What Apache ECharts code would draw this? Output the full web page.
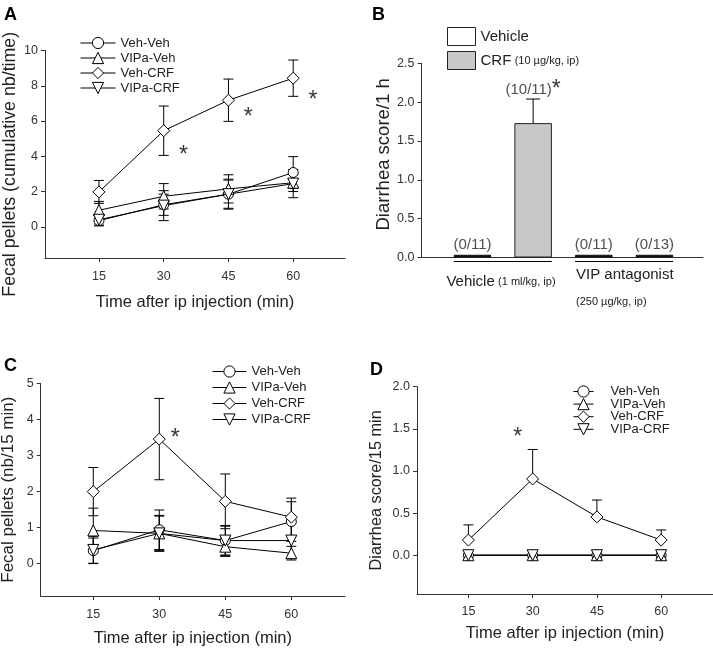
<!DOCTYPE html>
<html><head><meta charset="utf-8">
<script src="https://cdn.jsdelivr.net/npm/echarts@6/dist/echarts.min.js"></script>
<style>html,body{margin:0;padding:0;background:#fff}#c{width:713px;height:649px}</style>
</head><body><div id="c"></div>
<script>
const FONT = "'Liberation Sans', Arial, Helvetica, sans-serif";

// ---------- shared ----------
const times = [15, 30, 45, 60];
const groupNames = ['Veh-Veh', 'VIPa-Veh', 'Veh-CRF', 'VIPa-CRF'];
const xTickValues = [15, 30, 45, 60];
const xTitle = 'Time after ip injection (min)';

// ---------- Panel A: cumulative fecal pellets ----------
const aVehVeh = [0.35, 1.25, 1.85, 3.08];
const aVIPaVeh = [0.94, 1.73, 2.15, 2.50];
const aVehCRF = [1.98, 5.45, 7.18, 8.43];
const aVIPaCRF = [0.40, 1.20, 1.85, 2.45];
const aVehVehSem = [0.30, 0.60, 0.85, 0.90];
const aVIPaVehSem = [0.50, 0.72, 0.80, 0.50];
const aVehCRFSem = [0.65, 1.40, 1.20, 1.03];
const aVIPaCRFSem = [0.30, 0.85, 0.80, 0.80];
const aYTicks = [0, 2, 4, 6, 8, 10];
const aStarX = [34.6, 49.6, 64.6];
const aStarY = [4.3, 6.45, 7.45];
const aYTitle = 'Fecal pellets (cumulative nb/time)';

// ---------- Panel B: diarrhea score / 1 h ----------
const bSeriesNames = ['Vehicle', 'CRF (10 µg/kg, ip)'];
const bPositions = [1, 2, 3, 4];
const bSeriesOf = [0, 1, 0, 1];
const bValues = [0.035, 1.73, 0.035, 0.035];
const bSem = [0, 0.31, 0, 0];
const bCounts = ['(0/11)', '(10/11)', '(0/11)', '(0/13)'];
const bStars = ['', '*', '', ''];
const bYTicks = [0, 0.5, 1.0, 1.5, 2.0, 2.5];
const bGroupFrom = [1, 3];
const bGroupTo = [2, 4];
const bGroupLabels = ['Vehicle', 'VIP antagonist'];
const bGroupDoses = ['(1 ml/kg, ip)', '(250 µg/kg, ip)'];
const bYTitle = 'Diarrhea score/1 h';

// ---------- Panel C: fecal pellets / 15 min ----------
const cVehVeh = [0.35, 0.93, 0.63, 1.16];
const cVIPaVeh = [0.91, 0.83, 0.46, 0.28];
const cVehCRF = [1.99, 3.45, 1.72, 1.28];
const cVIPaCRF = [0.37, 0.83, 0.63, 0.63];
const cVehVehSem = [0.35, 0.55, 0.40, 0.55];
const cVIPaVehSem = [0.62, 0.50, 0.27, 0.19];
const cVehCRFSem = [0.67, 1.13, 0.76, 0.53];
const cVIPaCRFSem = [0.38, 0.48, 0.42, 0.50];
const cYTicks = [0, 1, 2, 3, 4, 5];
const cStarX = [33.6];
const cStarY = [3.6];
const cYTitle = 'Fecal pellets (nb/15 min)';

// ---------- Panel D: diarrhea score / 15 min ----------
const dVehVeh = [0, 0, 0, 0];
const dVIPaVeh = [0, 0, 0, 0];
const dVehCRF = [0.18, 0.905, 0.455, 0.18];
const dVIPaCRF = [0, 0, 0, 0];
const dVehVehSem = [0, 0, 0, 0];
const dVIPaVehSem = [0, 0, 0, 0];
const dVehCRFSem = [0.18, 0.35, 0.20, 0.12];
const dVIPaCRFSem = [0, 0, 0, 0];
const dYTicks = [0, 0.5, 1.0, 1.5, 2.0];
const dStarX = [26.5];
const dStarY = [1.45];
const dYTitle = 'Diarrhea score/15 min';

// ---------- styles ----------
const symbols = ['circle', 'triangle', 'diamond', 'triangle'];
const symbolRot = [0, 0, 0, 180];
const symbolSizes = [10, 11, 12, 11];
const AX = '#333';
const X_TITLE_FS = 16.5;
const TICK_FS = 12.5;

function errSeries(idx, data, cap, twoSided) {
  return {
    type: 'custom', xAxisIndex: idx, yAxisIndex: idx, z: 2, silent: true, animation: false,
    data: data, encode: { x: 0, y: [1, 2] },
    renderItem: function (params, api) {
      const x = api.value(0), lo = api.value(1), hi = api.value(2);
      const a = api.coord([x, lo]), b = api.coord([x, hi]);
      const st = { stroke: '#000', lineWidth: 1 };
      const ch = [
        { type: 'line', shape: { x1: a[0], y1: a[1], x2: b[0], y2: b[1] }, style: st },
        { type: 'line', shape: { x1: b[0] - cap, y1: b[1], x2: b[0] + cap, y2: b[1] }, style: st }
      ];
      if (twoSided) ch.push({ type: 'line', shape: { x1: a[0] - cap, y1: a[1], x2: a[0] + cap, y2: a[1] }, style: st });
      return { type: 'group', children: ch };
    }
  };
}

function linePanel(idx, means, sems, twoSided) {
  const out = [];
  groupNames.forEach(function (name, k) {
    out.push({
      type: 'line', name: name, xAxisIndex: idx, yAxisIndex: idx, z: 3, animation: false,
      data: times.map(function (t, i) { return [t, means[k][i]]; }),
      symbol: symbols[k], symbolRotate: symbolRot[k], symbolSize: symbolSizes[k],
      itemStyle: { color: '#fff', borderColor: '#000', borderWidth: 1 },
      lineStyle: { color: '#000', width: 1 },
      emphasis: { disabled: true }
    });
  });
  const errData = [];
  means.forEach(function (m, k) {
    m.forEach(function (v, i) {
      const s = sems[k][i];
      if (s > 0) errData.push([times[i], twoSided ? v - s : v, v + s]);
    });
  });
  out.push(errSeries(idx, errData, 5, twoSided));
  return out;
}

function starSeries(idx, xs, ys) {
  return {
    type: 'scatter', xAxisIndex: idx, yAxisIndex: idx, symbolSize: 1, silent: true, z: 5, animation: false,
    itemStyle: { color: 'rgba(0,0,0,0)' },
    data: xs.map(function (x, i) { return [x, ys[i]]; }),
    label: { show: true, position: 'inside', formatter: '*', fontSize: 23, color: '#000', fontFamily: FONT, offset: [0, 5] }
  };
}

function xAx(idx, min, max, gap, labelMargin) {
  return {
    type: 'value', gridIndex: idx, min: min, max: max,
    name: xTitle, nameLocation: 'middle', nameGap: gap,
    nameTextStyle: { fontSize: X_TITLE_FS, color: '#222', fontFamily: FONT },
    axisLine: { show: true, onZero: false, lineStyle: { color: AX, width: 1 } },
    axisTick: { show: true, length: 4, customValues: xTickValues, lineStyle: { color: AX } },
    axisLabel: { customValues: xTickValues, fontSize: TICK_FS, color: '#333', margin: labelMargin, fontFamily: FONT },
    splitLine: { show: false }
  };
}
function yAx(idx, min, max, ticks, dec, name, gap, fs, pad) {
  return {
    type: 'value', gridIndex: idx, min: min, max: max,
    name: name, nameLocation: 'middle', nameGap: gap,
    nameTextStyle: { fontSize: fs, color: '#222', fontFamily: FONT, padding: pad },
    axisLine: { show: true, onZero: false, lineStyle: { color: AX, width: 1 } },
    axisTick: { show: true, length: 4, customValues: ticks, lineStyle: { color: AX } },
    axisLabel: { customValues: ticks, fontSize: TICK_FS, color: '#333', margin: 7, fontFamily: FONT,
      formatter: function (v) { return v.toFixed(dec); } },
    splitLine: { show: false }
  };
}

function lineLegend(left, top, itemWidth, gap, padLeft) {
  return {
    data: groupNames, orient: 'vertical', left: left, top: top, itemWidth: itemWidth, itemHeight: 14,
    itemGap: gap, selectedMode: false, padding: 0,
    lineStyle: { width: 1, color: '#000' },
    itemStyle: { color: '#fff', borderColor: '#000', borderWidth: 1 },
    textStyle: { fontSize: 13, color: '#222', fontFamily: FONT, padding: [0, 0, 0, padLeft] }
  };
}

const series = [];
series.push.apply(series, linePanel(0, [aVehVeh, aVIPaVeh, aVehCRF, aVIPaCRF], [aVehVehSem, aVIPaVehSem, aVehCRFSem, aVIPaCRFSem], true));
series.push(starSeries(0, aStarX, aStarY));
series.push.apply(series, linePanel(2, [cVehVeh, cVIPaVeh, cVehCRF, cVIPaCRF], [cVehVehSem, cVIPaVehSem, cVehCRFSem, cVIPaCRFSem], true));
series.push(starSeries(2, cStarX, cStarY));
series.push.apply(series, linePanel(3, [dVehVeh, dVIPaVeh, dVehCRF, dVIPaCRF], [dVehVehSem, dVIPaVehSem, dVehCRFSem, dVIPaCRFSem], false));
series.push(starSeries(3, dStarX, dStarY));

// Panel B bars
const bFill = ['#fff', '#c8c8c8'];
const BAR_W = 37.5;
bSeriesNames.forEach(function (n, s) {
  const d = [];
  bPositions.forEach(function (p, i) {
    if (bSeriesOf[i] !== s) return;
    // near-zero means are drawn as a solid black strip, as in the figure
    d.push(bValues[i] < 0.1 ? { value: [p, bValues[i]], itemStyle: { color: '#111', borderColor: '#111' } } : [p, bValues[i]]);
  });
  series.push({
    type: 'bar', name: n, xAxisIndex: 1, yAxisIndex: 1, barWidth: BAR_W, barGap: '-100%', z: 2,
    animation: false, data: d,
    itemStyle: { color: bFill[s], borderColor: '#222', borderWidth: 1 },
    emphasis: { disabled: true }
  });
});
const bErr = [];
bPositions.forEach(function (p, i) { if (bSem[i] > 0) bErr.push([p, bValues[i], bValues[i] + bSem[i]]); });
series.push(errSeries(1, bErr, 7, false));
series.push({
  type: 'scatter', xAxisIndex: 1, yAxisIndex: 1, symbolSize: 1, silent: true, z: 5, animation: false,
  itemStyle: { color: 'rgba(0,0,0,0)' },
  data: bPositions.map(function (p, i) { return [p, bValues[i] + bSem[i], i]; }),
  label: {
    show: true, position: 'top', distance: 1,
    formatter: function (prm) {
      const i = prm.value[2];
      return '{t|' + bCounts[i] + '}' + (bStars[i] ? '{s|' + bStars[i] + '}' : '');
    },
    rich: {
      t: { fontSize: 15, lineHeight: 16, color: '#222', fontFamily: FONT },
      s: { fontSize: 23, lineHeight: 16, color: '#000', fontFamily: FONT }
    }
  }
});
// group underlines
series.push({
  type: 'custom', xAxisIndex: 1, yAxisIndex: 1, silent: true, z: 3, animation: false,
  data: bGroupFrom.map(function (f, i) { return [f, bGroupTo[i]]; }),
  encode: { x: [0, 1] },
  renderItem: function (params, api) {
    const a = api.coord([api.value(0), 0]), b = api.coord([api.value(1), 0]);
    const y = a[1] + 4;
    return { type: 'line', shape: { x1: a[0] - BAR_W / 2, y1: y, x2: b[0] + BAR_W / 2, y2: y },
      style: { stroke: '#000', lineWidth: 1 } };
  }
});

const option = {
  animation: false,
  backgroundColor: '#fff',
  textStyle: { fontFamily: FONT },
  grid: [
    { left: 45, top: 50.5, width: 300, height: 207.5, outerBoundsMode: 'none' },
    { left: 421.5, top: 63.3, width: 281.5, height: 194.2, outerBoundsMode: 'none' },
    { left: 40.7, top: 383.3, width: 304.3, height: 212.7, outerBoundsMode: 'none' },
    { left: 417, top: 386.7, width: 296, height: 207.3, outerBoundsMode: 'none' }
  ],
  xAxis: [
    xAx(0, 2.5, 72, 35.5, 12),
    { type: 'value', gridIndex: 1, min: 0.16, max: 4.8,
      axisLine: { show: true, onZero: false, lineStyle: { color: AX } },
      axisTick: { show: false }, axisLabel: { show: false }, splitLine: { show: false } },
    xAx(2, 3.05, 72.2, 34, 12),
    xAx(3, 3.0, 72.1, 31, 11)
  ],
  yAxis: [
    yAx(0, -1.77, 10, aYTicks, 0, aYTitle, 26, 17.8, [0, 20, 0, 0]),
    yAx(1, 0, 2.5, bYTicks, 1, bYTitle, 27.5, 18.5, [0, 0, 0, 12]),
    yAx(2, -0.91, 5, cYTicks, 0, cYTitle, 24, 17, 0),
    yAx(3, -0.46, 2, dYTicks, 1, dYTitle, 32, 16.3, 0)
  ],
  legend: [
    lineLegend(80, 36.5, 35, 2, 0),
    lineLegend(212, 365, 34, 3, 0),
    lineLegend(573, 385, 20, -0.4, 12),
    {
      data: bSeriesNames, orient: 'vertical', left: 447, top: 27, itemWidth: 28, itemHeight: 18, itemGap: 5,
      icon: 'rect', selectedMode: false, padding: 0,
      itemStyle: { borderColor: '#222', borderWidth: 1 },
      formatter: function (n) {
        const k = n.indexOf(' (');
        return k < 0 ? '{a|' + n + '}' : '{a|' + n.slice(0, k) + '} {b|' + n.slice(k + 1) + '}';
      },
      textStyle: { rich: { a: { fontSize: 15, color: '#222', fontFamily: FONT }, b: { fontSize: 11, color: '#222', fontFamily: FONT } } }
    }
  ],
  graphic: [
    { type: 'text', left: 4, top: 6, style: { text: 'A', font: 'bold 18px ' + FONT, fill: '#000' } },
    { type: 'text', left: 372, top: 6, style: { text: 'B', font: 'bold 18px ' + FONT, fill: '#000' } },
    { type: 'text', left: 4, top: 357, style: { text: 'C', font: 'bold 18px ' + FONT, fill: '#000' } },
    { type: 'text', left: 370, top: 361, style: { text: 'D', font: 'bold 18px ' + FONT, fill: '#000' } },
    { type: 'text', x: 501, y: 282, style: { text: '{a|' + bGroupLabels[0] + '} {b|' + bGroupDoses[0] + '}', align: 'center', verticalAlign: 'middle',
        rich: { a: { fontSize: 15, fill: '#222', fontFamily: FONT }, b: { fontSize: 11, fill: '#222', fontFamily: FONT } } } },
    { type: 'text', x: 576, y: 275, style: { text: bGroupLabels[1], font: '15px ' + FONT, fill: '#222', verticalAlign: 'middle' } },
    { type: 'text', x: 576, y: 301.7, style: { text: bGroupDoses[1], font: '11px ' + FONT, fill: '#222', verticalAlign: 'middle' } }
  ],
  series: series
};

const chart = echarts.init(document.getElementById('c'), null, { renderer: 'canvas' });
chart.setOption(option);
</script>
</body></html>
